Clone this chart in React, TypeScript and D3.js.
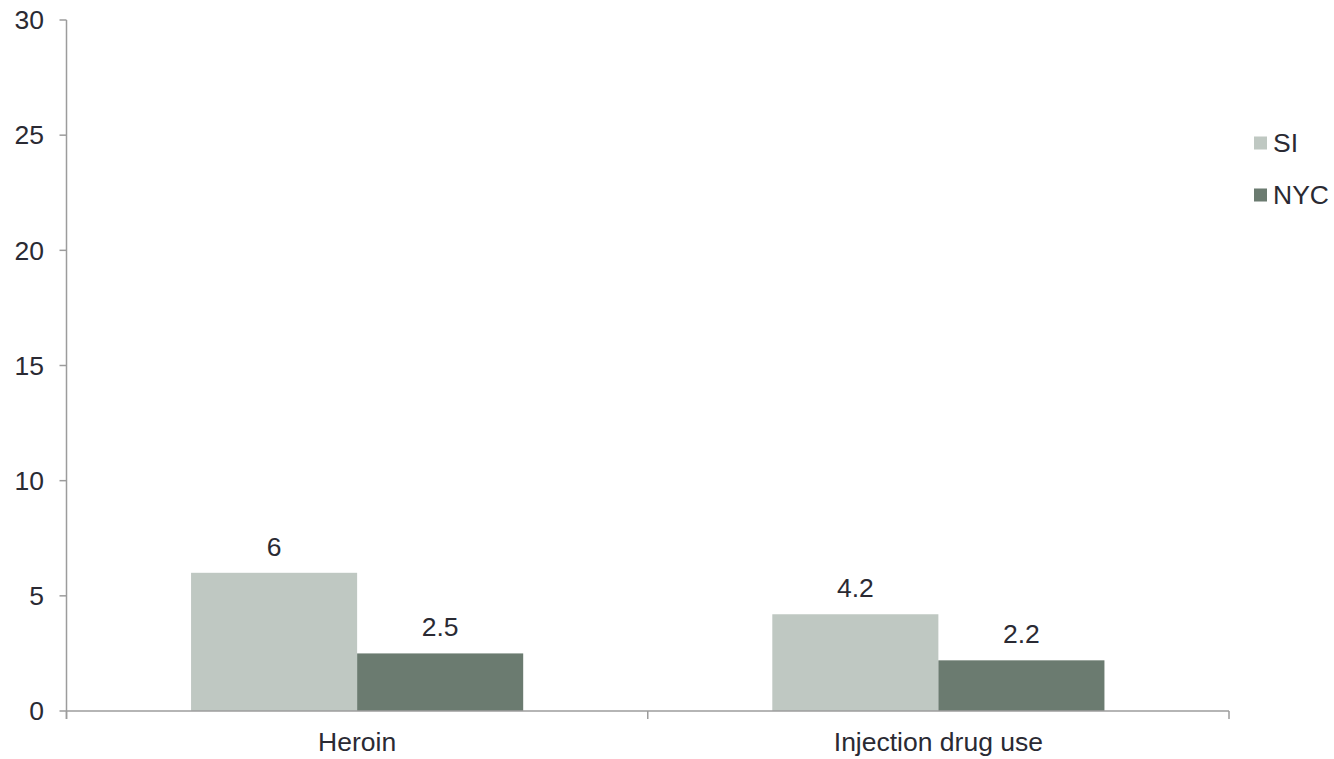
import React, { useEffect, useRef } from 'react'
import * as d3 from 'd3'

const categories = ['Heroin', 'Injection drug use']
const seriesNames = ['SI', 'NYC']
const siValues = [6, 4.2]
const nycValues = [2.5, 2.2]
const yTicks = [0, 5, 10, 15, 20, 25, 30]

const colors: Record<string, string> = { SI: '#bfc8c2', NYC: '#6b7b70' }
const textColor = '#2a2a33'
const axisColor = '#9c9c9c'
const font = '"Liberation Sans", Arial, sans-serif'
const fontSize = 26.5

export default function App() {
  const svgRef = useRef<SVGSVGElement | null>(null)

  useEffect(() => {
    const svg = d3.select(svgRef.current)
    svg.selectAll('*').remove()

    const width = 1334
    const height = 759
    const left = 66.5
    const right = 1229
    const top = 20
    const bottom = 711

    const rows = categories.map((c, i) => ({ category: c, SI: siValues[i], NYC: nycValues[i] }))

    const x0 = d3.scaleBand().domain(categories).range([left, right]).paddingInner(0).paddingOuter(0)
    const x1 = d3.scaleBand().domain(seriesNames).range([0, x0.bandwidth()]).paddingInner(0).paddingOuter(0.75)
    const y = d3.scaleLinear().domain([0, 30]).range([bottom, top])

    svg.attr('width', width).attr('height', height)
    const g = svg.append('g').attr('font-family', font)

    // bars
    const groups = g.selectAll('.grp')
      .data(rows)
      .join('g')
      .attr('class', 'grp')
      .attr('transform', d => `translate(${x0(d.category)},0)`)

    groups.selectAll('rect')
      .data(d => seriesNames.map(s => ({ s, v: (d as any)[s] as number })))
      .join('rect')
      .attr('x', d => x1(d.s)!)
      .attr('y', d => y(d.v))
      .attr('width', x1.bandwidth())
      .attr('height', d => y(0) - y(d.v))
      .attr('fill', d => colors[d.s])

    // value labels
    groups.selectAll('text.val')
      .data(d => seriesNames.map(s => ({ s, v: (d as any)[s] as number })))
      .join('text')
      .attr('class', 'val')
      .attr('x', d => x1(d.s)! + x1.bandwidth() / 2)
      .attr('y', d => y(d.v) - 17)
      .attr('text-anchor', 'middle')
      .attr('font-size', fontSize)
      .attr('fill', textColor)
      .text(d => String(d.v))

    // y axis
    g.append('line')
      .attr('x1', left).attr('x2', left)
      .attr('y1', top).attr('y2', bottom + 8)
      .attr('stroke', axisColor).attr('stroke-width', 1.5)

    yTicks.forEach(t => {
      g.append('line')
        .attr('x1', left - 7).attr('x2', left)
        .attr('y1', y(t)).attr('y2', y(t))
        .attr('stroke', axisColor).attr('stroke-width', 1.5)
      g.append('text')
        .attr('x', 44)
        .attr('y', y(t))
        .attr('dy', '0.35em')
        .attr('text-anchor', 'end')
        .attr('font-size', fontSize)
        .attr('fill', textColor)
        .text(t)
    })

    // x axis
    g.append('line')
      .attr('x1', left).attr('x2', right)
      .attr('y1', bottom).attr('y2', bottom)
      .attr('stroke', axisColor).attr('stroke-width', 1.5)

    const xTickPos = [...categories.map(c => x0(c)!), right]
    xTickPos.forEach(p => {
      g.append('line')
        .attr('x1', p).attr('x2', p)
        .attr('y1', bottom).attr('y2', bottom + 8)
        .attr('stroke', axisColor).attr('stroke-width', 1.5)
    })

    categories.forEach(c => {
      g.append('text')
        .attr('x', x0(c)! + x0.bandwidth() / 2)
        .attr('y', 751)
        .attr('text-anchor', 'middle')
        .attr('font-size', fontSize)
        .attr('fill', textColor)
        .text(c)
    })

    // legend
    const legend = g.append('g').attr('transform', 'translate(1254, 143)')
    seriesNames.forEach((s, i) => {
      const lg = legend.append('g').attr('transform', `translate(0, ${i * 52})`)
      lg.append('rect')
        .attr('x', 0).attr('y', -6.5)
        .attr('width', 13).attr('height', 13)
        .attr('fill', colors[s])
      lg.append('text')
        .attr('x', 19)
        .attr('y', 0)
        .attr('dy', '0.35em')
        .attr('font-size', fontSize)
        .attr('fill', textColor)
        .text(s)
    })
  }, [])

  return (
    <svg
      ref={svgRef}
      style={{ position: 'absolute', left: 0, top: 0, background: '#fff' }}
    />
  )
}
